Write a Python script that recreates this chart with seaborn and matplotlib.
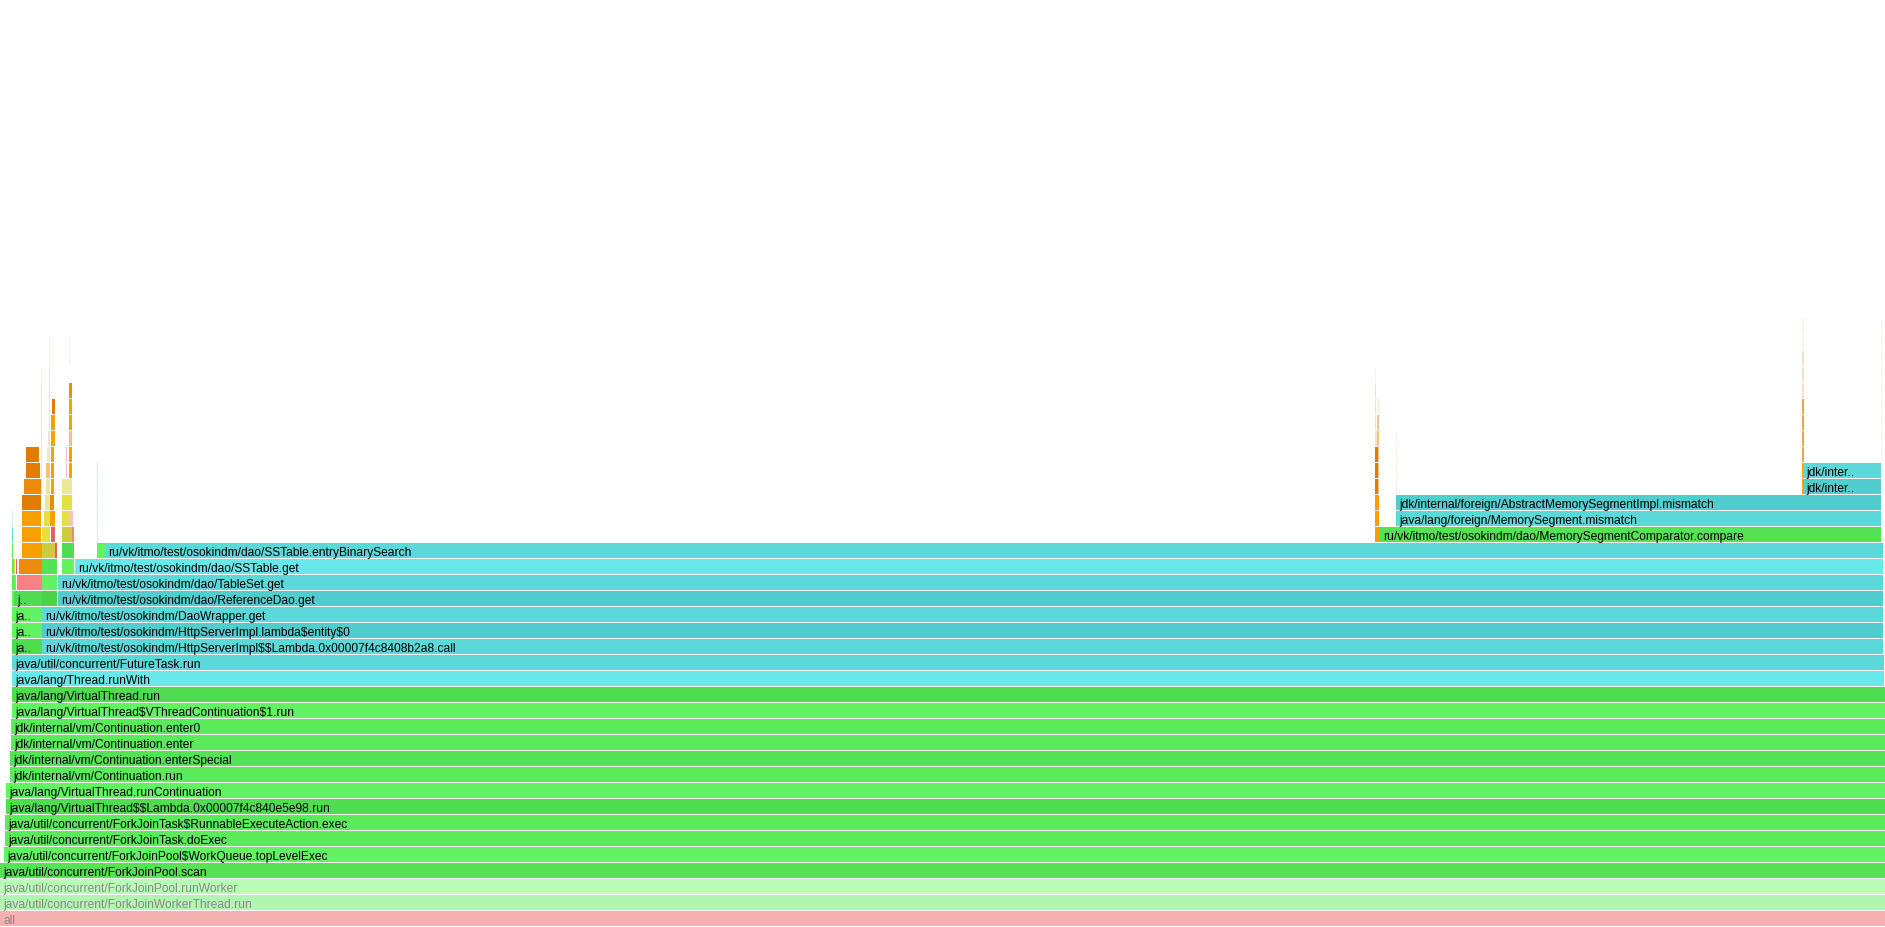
import math
import matplotlib
matplotlib.use("Agg")
import matplotlib.pyplot as plt
import seaborn as sns

# ---------------- data (sample counts; 18850 samples total) ----------------
total_samples = 18850

# (name, stack depth, offset in samples, samples, frame kind)
trunk_frames = [
    ("all", 0, 0, 18850, "root"),
    ("java/util/concurrent/ForkJoinWorkerThread.run", 1, 0, 18850, "int1"),
    ("java/util/concurrent/ForkJoinPool.runWorker", 2, 0, 18850, "int2"),
    ("java/util/concurrent/ForkJoinPool.scan", 3, 0, 18850, "g2"),
    ("java/util/concurrent/ForkJoinPool$WorkQueue.topLevelExec", 4, 40, 18810, "g4"),
    ("java/util/concurrent/ForkJoinTask.doExec", 5, 50, 18800, "g3"),
    ("java/util/concurrent/ForkJoinTask$RunnableExecuteAction.exec", 6, 50, 18800, "g3"),
    ("java/lang/VirtualThread$$Lambda.0x00007f4c840e5e98.run", 7, 60, 18790, "g1"),
    ("java/lang/VirtualThread.runContinuation", 8, 60, 18790, "g4"),
    ("jdk/internal/vm/Continuation.run", 9, 100, 18750, "g3"),
    ("jdk/internal/vm/Continuation.enterSpecial", 10, 100, 18750, "g2"),
    ("jdk/internal/vm/Continuation.enter", 11, 110, 18740, "g3"),
    ("jdk/internal/vm/Continuation.enter0", 12, 110, 18740, "g3"),
    ("java/lang/VirtualThread$VThreadContinuation$1.run", 13, 120, 18730, "g4"),
    ("java/lang/VirtualThread.run", 14, 120, 18730, "g1"),
    ("java/lang/Thread.runWith", 15, 120, 18720, "a3"),
    ("java/util/concurrent/FutureTask.run", 16, 120, 18720, "a2"),
    ("ru/vk/itmo/test/osokindm/HttpServerImpl$$Lambda.0x00007f4c8408b2a8.call", 17, 420, 18410, "a2"),
    ("ru/vk/itmo/test/osokindm/HttpServerImpl.lambda$entity$0", 18, 420, 18410, "a4"),
    ("ru/vk/itmo/test/osokindm/DaoWrapper.get", 19, 420, 18410, "a2"),
    ("ru/vk/itmo/test/osokindm/dao/ReferenceDao.get", 20, 580, 18250, "a4"),
    ("ru/vk/itmo/test/osokindm/dao/TableSet.get", 21, 580, 18250, "a2"),
    ("ru/vk/itmo/test/osokindm/dao/SSTable.get", 22, 750, 18080, "a3"),
    ("ru/vk/itmo/test/osokindm/dao/SSTable.entryBinarySearch", 23, 1050, 17780, "a2"),
]

left_frames = [
    ("java/lang/invoke/LambdaForm$DMH.invokeVirtual", 17, 120, 300, "g1"),
    ("java/lang/invoke/LambdaForm$MH.invoke", 18, 120, 300, "g4"),
    ("java/util/concurrent/ConcurrentSkipListMap.get", 19, 120, 300, "g4"),
    ("java/util/concurrent/ConcurrentSkipListMap.findNode", 20, 120, 20, "g4"),
    ("java/util/concurrent/ConcurrentSkipListMap.doGet", 20, 142, 278, "g1"),
    ("ru/vk/itmo/test/osokindm/dao/ReferenceDao.lambda$get$0", 20, 420, 150, "g5"),
    ("java/util/concurrent/ConcurrentSkipListMap.findPredecessor", 21, 120, 15, "g3"),
    ("java/util/concurrent/ConcurrentSkipListMap.cpr", 21, 140, 18, "g4"),
    ("itable stub", 21, 170, 250, "r1"),
    ("ru/vk/itmo/test/osokindm/dao/TableSet.merge", 21, 420, 150, "g4"),
    ("java/util/Comparator.compare", 22, 120, 15, "g3"),
    ("SharedRuntime::resolve", 22, 140, 8, "y1"),
    ("vtable stub", 22, 160, 10, "r2"),
    ("asm_exc_page_fault", 22, 185, 235, "o3"),
    ("ru/vk/itmo/test/osokindm/dao/MergeIterator.<init>", 22, 420, 150, "g2"),
    ("ru/vk/itmo/test/osokindm/dao/SSTable.iterator", 22, 620, 120, "g4"),
    ("java/util/Comparator.compare", 23, 120, 12, "g3"),
    ("exc_page_fault", 23, 220, 195, "o1"),
    ("OptoRuntime::new_instance_C", 23, 420, 130, "y2"),
    ("__memset_avx2", 23, 550, 20, "r2"),
    ("ru/vk/itmo/test/osokindm/dao/SSTable.entryBinarySearch", 23, 620, 120, "g1"),
    ("ru/vk/itmo/test/osokindm/dao/SSTable.getIndex", 23, 970, 80, "g4"),
    ("java/util/Comparator.compare", 24, 120, 10, "a2"),
    ("do_user_addr_fault", 24, 220, 190, "o1"),
    ("InstanceKlass::allocate_instance", 24, 420, 80, "y1"),
    ("__memset_avx2_unaligned", 24, 510, 40, "r2"),
    ("ru/vk/itmo/test/osokindm/dao/MemorySegmentComparator.compare", 24, 620, 100, "y2"),
    ("__memmove_avx", 24, 720, 20, "r1"),
    ("jdk/internal/misc/Unsafe.getByte", 24, 970, 8, "f1"),
    ("jdk/internal/misc/Unsafe.getLong", 25, 120, 10, "f1"),
    ("handle_mm_fault", 25, 222, 188, "o1"),
    ("CollectedHeap::obj_allocate", 25, 440, 60, "y1"),
    ("asm_exc_page_fault", 25, 500, 50, "o1"),
    ("MemAllocator::allocate", 25, 620, 80, "y1"),
    ("__memmove_avx_unaligned", 25, 700, 30, "r3"),
    ("jdk/internal/misc/Unsafe.getLong", 25, 970, 8, "f1"),
    ("__handle_mm_fault", 26, 222, 188, "o2"),
    ("MemAllocator::mem_allocate", 26, 450, 50, "y3"),
    ("exc_page_fault", 26, 500, 40, "o3"),
    ("MemAllocator::allocate_inside_tlab_slow", 26, 620, 100, "y1"),
    ("Unsafe_GetLong", 26, 970, 8, "f1"),
    ("do_anonymous_page", 27, 240, 170, "o3"),
    ("irqentry_exit", 27, 410, 10, "o5"),
    ("ThreadLocalAllocBuffer::fill", 27, 460, 40, "y3"),
    ("do_user_addr_fault", 27, 510, 30, "o1"),
    ("G1CollectedHeap::allocate_new_tlab", 27, 620, 100, "y3"),
    ("Unsafe_GetLong", 27, 970, 8, "f1"),
    ("alloc_pages_vma", 28, 260, 140, "o2"),
    ("irqentry_exit_to_user_mode", 28, 410, 10, "o5"),
    ("asm_exc_page_fault", 28, 460, 40, "o4"),
    ("handle_mm_fault", 28, 510, 30, "o1"),
    ("Copy::fill_to_words", 28, 655, 15, "r3"),
    ("asm_exc_page_fault", 28, 690, 30, "o1"),
    ("Unsafe_GetLong", 28, 970, 8, "f1"),
    ("__alloc_pages", 29, 260, 130, "o2"),
    ("exit_to_user_mode_prepare", 29, 410, 10, "o5"),
    ("exc_page_fault", 29, 470, 30, "o5"),
    ("__handle_mm_fault", 29, 510, 30, "o1"),
    ("memset", 29, 660, 10, "r3"),
    ("exc_page_fault", 29, 690, 30, "o1"),
    ("schedule", 30, 410, 10, "o5"),
    ("do_user_addr_fault", 30, 480, 20, "o5"),
    ("do_anonymous_page", 30, 510, 40, "o1"),
    ("do_user_addr_fault", 30, 690, 30, "o4"),
    ("__schedule", 31, 410, 10, "o5"),
    ("handle_mm_fault", 31, 485, 15, "o5"),
    ("alloc_pages_vma", 31, 510, 40, "o1"),
    ("handle_mm_fault", 31, 690, 30, "o1"),
    ("finish_task_switch", 32, 410, 10, "o5"),
    ("__handle_mm_fault", 32, 485, 15, "o5"),
    ("__alloc_pages", 32, 520, 30, "o2"),
    ("__handle_mm_fault", 32, 690, 30, "o1"),
    ("__perf_event_task_sched_in", 33, 410, 10, "o5"),
    ("do_anonymous_page", 33, 485, 15, "o5"),
    ("do_anonymous_page", 33, 690, 30, "o3"),
    ("perf_event_update_userpage", 34, 410, 10, "o6"),
    ("alloc_pages_vma", 34, 485, 15, "o5"),
    ("__alloc_pages", 35, 485, 15, "o6"),
    ("alloc_pages_vma", 35, 685, 15, "o6"),
    ("get_page_from_freelist", 36, 485, 15, "o6"),
    ("__alloc_pages", 36, 685, 15, "o6"),
]

right_frames = [
    ("asm_exc_page_fault", 24, 13750, 50, "o1"),
    ("ru/vk/itmo/test/osokindm/dao/MemorySegmentComparator.compare", 24, 13800, 5010, "g2"),
    ("exc_page_fault", 25, 13750, 40, "o1"),
    ("java/lang/foreign/MemorySegment.mismatch", 25, 13960, 4850, "a2"),
    ("do_user_addr_fault", 26, 13750, 40, "o1"),
    ("jdk/internal/foreign/AbstractMemorySegmentImpl.mismatch", 26, 13960, 4850, "a4"),
    ("handle_mm_fault", 27, 13750, 30, "o2"),
    ("irqentry_exit", 27, 13780, 12, "o4"),
    ("jdk/internal/misc/ScopedMemoryAccess.getByte", 27, 13960, 8, "o6"),
    ("asm_exc_page_fault", 27, 18020, 10, "o1"),
    ("jdk/internal/foreign/AbstractMemorySegmentImpl.vectorizedMismatchLargeForBytes", 27, 18030, 780, "a4"),
    ("__handle_mm_fault", 28, 13750, 30, "o2"),
    ("irqentry_exit_to_user_mode", 28, 13780, 12, "o4"),
    ("jdk/internal/misc/ScopedMemoryAccess.getByteInternal", 28, 13960, 8, "o6"),
    ("exc_page_fault", 28, 18020, 10, "o1"),
    ("jdk/internal/util/ArraysSupport.vectorizedMismatch", 28, 18030, 780, "a2"),
    ("do_anonymous_page", 29, 13750, 28, "o2"),
    ("exit_to_user_mode_prepare", 29, 13780, 10, "o4"),
    ("jdk/internal/misc/Unsafe.getByte", 29, 13960, 8, "o6"),
    ("do_user_addr_fault", 29, 18020, 20, "o7"),
    ("mm_cpu_access", 29, 18810, 12, "o6"),
    ("alloc_pages_vma", 30, 13750, 15, "o5"),
    ("schedule", 30, 13770, 23, "o4"),
    ("Unsafe_GetByte", 30, 13960, 8, "o6"),
    ("handle_mm_fault", 30, 18020, 20, "o7"),
    ("mm_cpu_access", 30, 18810, 12, "o6"),
    ("__alloc_pages", 31, 13750, 10, "o5"),
    ("__schedule", 31, 13770, 23, "o4"),
    ("__handle_mm_fault", 31, 18020, 20, "o7"),
    ("mm_cpu_access", 31, 18810, 12, "o6"),
    ("get_page_from_freelist", 32, 13750, 10, "o5"),
    ("finish_task_switch", 32, 13770, 30, "o6"),
    ("do_anonymous_page", 32, 18020, 20, "o7"),
    ("mm_cpu_access", 32, 18810, 12, "o6"),
    ("clear_page_erms", 33, 13750, 10, "o5"),
    ("alloc_pages_vma", 33, 18020, 20, "o5"),
    ("mm_cpu_access", 33, 18810, 12, "o6"),
    ("clear_page", 34, 13750, 10, "o6"),
    ("__alloc_pages", 34, 18020, 20, "o5"),
    ("mm_cpu_access", 34, 18810, 12, "o6"),
    ("get_page_from_freelist", 35, 18020, 20, "o5"),
    ("mm_cpu_access", 35, 18810, 12, "o6"),
    ("clear_page_erms", 36, 18020, 15, "o6"),
    ("mm_cpu_access", 36, 18810, 12, "o6"),
    ("clear_page", 37, 18020, 15, "o6"),
    ("mm_cpu_access", 37, 18810, 12, "o6"),
]

# ---------------- styles ----------------
kind_colors = {
    "root": "#f4b1b1", "int1": "#b2f5b2", "int2": "#b8fcb8",
    "g1": "#50dc50", "g2": "#55e355", "g3": "#5aea5a", "g4": "#62f262", "g5": "#4bd34b",
    "a2": "#5cd8d8", "a3": "#68e8e8", "a4": "#52cdcd",
    "o1": "#f7a000", "o2": "#e07c00", "o3": "#ec8c0a", "o4": "#f6c27a",
    "o5": "#fae2c8", "o6": "#fdf2e8", "o7": "#f0a445",
    "y1": "#e4e044", "y2": "#cdcc3e", "y3": "#ece69a",
    "r1": "#f88282", "r2": "#e66262", "r3": "#f7c0c0",
    "f1": "#d8f2e6",
}
dimmed_kinds = {"root", "int1", "int2"}

W_PX, H_PX, DPI = 1885, 928, 100
ROW_PX = 16
n_rows = H_PX / ROW_PX

sns.set_theme(style="white")
plt.rcParams["font.family"] = ["Liberation Sans", "DejaVu Sans"]

fig = plt.figure(figsize=(W_PX / DPI, H_PX / DPI), dpi=DPI)
fig.patch.set_facecolor("white")
ax = fig.add_axes([0, 0, 1, 1])
ax.set_xlim(0, total_samples)
ax.set_ylim(0, n_rows)
ax.axis("off")

px_per_sample = W_PX / total_samples
font_size_pt = 12 * 72 / DPI

frames = trunk_frames + left_frames + right_frames
for name, level, start, samples, kind in frames:
    ax.barh(level + 1 / ROW_PX, samples, left=start, height=(ROW_PX - 1) / ROW_PX,
            align="edge", color=kind_colors[kind], linewidth=0)
    width_px = samples * px_per_sample
    if width_px >= 26:
        chars = int(math.floor(width_px / 7))
        title = name if len(name) <= chars else name[: chars - 2] + ".."
        ax.text(start + 3 / px_per_sample, level + 1 - 12 / ROW_PX, title,
                fontsize=font_size_pt, va="baseline", ha="left", parse_math=False,
                color="#8a8a8a" if kind in dimmed_kinds else "#000000")

fig.savefig("out.png", dpi=DPI, facecolor="white")
